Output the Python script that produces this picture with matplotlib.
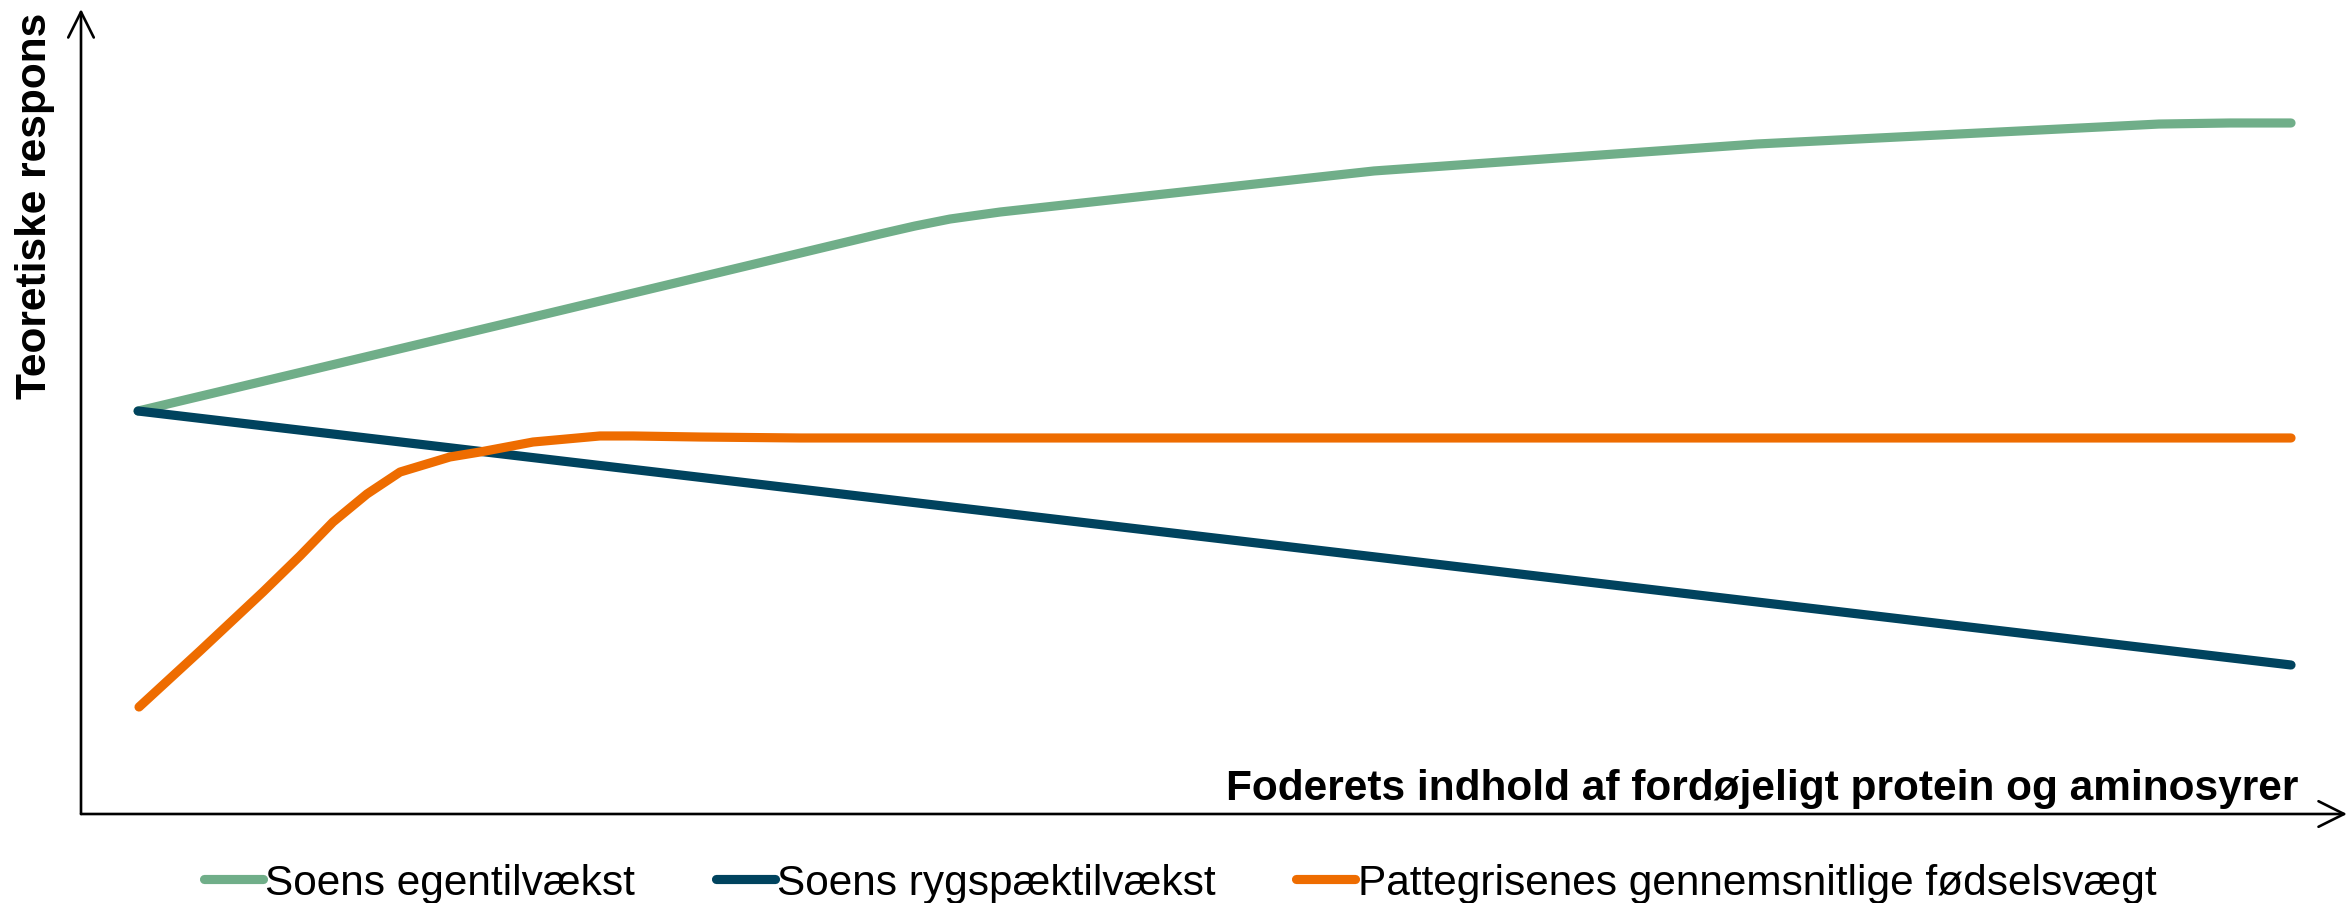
import matplotlib
matplotlib.use("Agg")
import matplotlib.pyplot as plt

# ---- data (response on a 0-100 scale, x on a 0-100 scale) ----
green_x = [2.52, 18.49, 35.26, 36.80, 38.35, 40.56, 57.06, 73.96, 89.10, 91.70, 94.84, 97.53]
green_y = [50.06, 60.75, 72.05, 73.04, 73.91, 74.78, 79.88, 83.23, 85.34, 85.71, 85.84, 85.84]

blue_x = [2.52, 97.53]
blue_y = [50.06, 18.51]

orange_x = [2.56, 5.25, 8.03, 9.66, 11.12, 12.62, 14.08, 16.28, 17.61, 19.95,
            22.90, 24.36, 27.32, 31.73, 97.53]
orange_y = [13.29, 20.25, 27.58, 32.05, 36.27, 39.75, 42.48, 44.35, 44.97, 46.21,
            46.96, 46.96, 46.83, 46.71, 46.71]

labels = ["Soens egentilvækst", "Soens rygspæktilvækst",
          "Pattegrisenes gennemsnitlige fødselsvægt"]
colors = ["#70AE89", "#00435E", "#EE6C00"]
y_title = "Teoretiske respons"
x_title = "Foderets indhold af fordøjeligt protein og aminosyrer"

plt.rcParams['font.family'] = ['Liberation Sans', 'DejaVu Sans']

W, H = 2348, 904
fig = plt.figure(figsize=(W / 100, H / 100), dpi=100)
ax = fig.add_axes([81 / W, 1 - 815 / H, 2266 / W, 805 / H])
ax.set_xlim(0, 100)
ax.set_ylim(0, 100)
ax.axis('off')

lw = 6.6
series = [(green_x, green_y), (blue_x, blue_y), (orange_x, orange_y)]
handles = []
for (xs, ys), c, lab in zip(series, colors, labels):
    h, = ax.plot(xs, ys, color=c, lw=lw, solid_capstyle='round',
                 solid_joinstyle='round', label=lab, clip_on=False)
    handles.append(h)

# axes with open arrowheads
arrow_kw = dict(arrowstyle='->', lw=1.9, color='black',
                mutation_scale=46, shrinkA=0, shrinkB=0)
ax.annotate('', xy=(1, 0), xytext=(0, 0), xycoords='axes fraction',
            textcoords='axes fraction', arrowprops=arrow_kw)
ax.annotate('', xy=(0, 1), xytext=(0, 0), xycoords='axes fraction',
            textcoords='axes fraction', arrowprops=arrow_kw)

fs = 30.5
fig.text(35 / W, 1 - 13 / H, y_title, rotation=90, ha='center', va='top',
         fontsize=fs, fontweight='bold')
fig.text(2298 / W, 1 - 800 / H, x_title, ha='right', va='baseline',
         fontsize=fs, fontweight='bold')

leg = fig.legend(handles, labels, loc='center', ncol=3,
                 bbox_to_anchor=(1180 / W, 1 - 884 / H), frameon=False,
                 fontsize=fs, handlelength=1.4, handletextpad=0.05,
                 columnspacing=1.9, borderpad=0, borderaxespad=0)

fig.savefig("out.png", dpi=100)
